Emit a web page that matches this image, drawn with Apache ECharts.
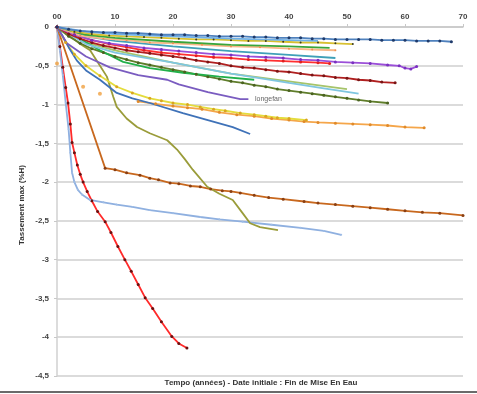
<!DOCTYPE html>
<html>
<head>
<meta charset="utf-8">
<script src="https://cdn.jsdelivr.net/npm/echarts@6/dist/echarts.min.js"></script>
<style>
  html, body { margin: 0; padding: 0; background: #fff; }
  #chart { width: 477px; height: 394px; }
</style>
</head>
<body>
<div id="chart"></div>
<script>
// Tick values
const xTicks = [0, 10, 20, 30, 40, 50, 60, 70];
const yTicks = [0, -0.5, -1, -1.5, -2, -2.5, -3, -3.5, -4, -4.5];

// Settlement curves: [years since end of impoundment, settlement %H]
const sTopBlue = [[0,0],[2,-0.03],[4,-0.05],[6,-0.06],[8,-0.07],[10,-0.07],[12,-0.08],[14,-0.08],[16,-0.09],[18,-0.1],[20,-0.1],[22,-0.1],[24,-0.11],[26,-0.11],[28,-0.12],[30,-0.12],[32,-0.12],[34,-0.13],[36,-0.13],[38,-0.14],[40,-0.14],[42,-0.14],[44,-0.15],[46,-0.15],[48,-0.16],[50,-0.16],[52,-0.16],[54,-0.16],[56,-0.17],[58,-0.17],[60,-0.17],[62,-0.18],[64,-0.18],[66,-0.18],[68,-0.19]];
const sSky = [[0,0],[5,-0.06],[10,-0.09],[20,-0.12],[30,-0.15],[40,-0.17],[45,-0.18]];
const sGold = [[0,0],[3,-0.06],[6,-0.09],[9,-0.11],[12,-0.12],[15,-0.13],[18,-0.14],[21,-0.15],[24,-0.16],[27,-0.16],[30,-0.17],[33,-0.18],[36,-0.18],[39,-0.19],[42,-0.2],[45,-0.2],[48,-0.21],[51,-0.22]];
const sGreen = [[0,0],[5,-0.1],[10,-0.14],[20,-0.19],[30,-0.23],[40,-0.25],[47,-0.27]];
const sPeach = [[0,0],[4,-0.11],[8,-0.15],[12,-0.17],[16,-0.2],[20,-0.21],[25,-0.23],[30,-0.25],[35,-0.26],[40,-0.28],[44,-0.29],[48,-0.3]];
const sTeal = [[0,0],[5,-0.12],[10,-0.18],[20,-0.25],[30,-0.31],[40,-0.36],[48,-0.4]];
const sPurple = [[0,0],[3,-0.1],[6,-0.17],[9,-0.21],[12,-0.24],[15,-0.27],[18,-0.29],[21,-0.31],[24,-0.33],[27,-0.35],[30,-0.36],[33,-0.38],[36,-0.39],[39,-0.4],[42,-0.42],[45,-0.43],[48,-0.45],[51,-0.46],[54,-0.47],[57,-0.49],[59,-0.5],[60,-0.53],[61,-0.54],[62,-0.51]];
const sRed = [[0,0],[3,-0.1],[6,-0.17],[9,-0.22],[12,-0.26],[15,-0.3],[18,-0.33],[21,-0.35],[24,-0.37],[27,-0.39],[30,-0.4],[33,-0.42],[36,-0.43],[39,-0.44],[42,-0.45],[45,-0.46],[47,-0.47]];
const sMaroon = [[0,0],[2,-0.09],[4,-0.15],[6,-0.2],[8,-0.24],[10,-0.27],[12,-0.3],[14,-0.32],[16,-0.34],[18,-0.36],[20,-0.38],[22,-0.4],[24,-0.43],[26,-0.45],[28,-0.47],[30,-0.5],[32,-0.52],[34,-0.53],[36,-0.55],[38,-0.57],[40,-0.58],[42,-0.6],[44,-0.62],[46,-0.63],[48,-0.65],[50,-0.66],[52,-0.68],[54,-0.69],[56,-0.71],[58.3,-0.72]];
const sCyan = [[0,0],[5,-0.22],[10,-0.33],[20,-0.46],[30,-0.6],[40,-0.72],[46,-0.79],[52,-0.86]];
const sLightGreen = [[0,0],[5,-0.2],[10,-0.3],[20,-0.46],[30,-0.6],[40,-0.7],[50,-0.8]];
const sBrightGreen = [[0,0],[3.4,-0.13],[7.4,-0.3],[11.4,-0.45],[16,-0.53],[21.7,-0.59],[28,-0.64],[34,-0.68]];
const sDarkGreen = [[0,0],[2,-0.12],[4,-0.21],[6,-0.28],[8,-0.33],[10,-0.38],[12,-0.42],[14,-0.46],[16,-0.49],[18,-0.52],[20,-0.55],[22,-0.58],[24,-0.61],[26,-0.64],[28,-0.67],[30,-0.7],[32,-0.72],[34,-0.75],[36,-0.77],[38,-0.8],[40,-0.82],[42,-0.84],[44,-0.86],[46,-0.88],[48,-0.9],[50,-0.92],[52,-0.94],[54,-0.96],[57,-0.98]];
const sLongefan = [[0,0],[1.7,-0.21],[5,-0.38],[9.1,-0.52],[14,-0.62],[19,-0.68],[21,-0.74],[26,-0.84],[31.6,-0.93],[33,-0.93]];
const sBlue = [[0,0],[1,-0.12],[2,-0.26],[3.4,-0.43],[5,-0.56],[7.4,-0.68],[10.3,-0.85],[13,-0.92],[16,-0.98],[21.7,-1.11],[26,-1.2],[30.3,-1.29],[33.3,-1.38]];
const sYellow = [[0,0],[1.5,-0.2],[3,-0.35],[5,-0.5],[7.4,-0.63],[10.3,-0.77],[13,-0.85],[16,-0.92],[18,-0.95],[20,-0.98],[22.5,-1.0],[24.7,-1.03],[27,-1.06],[29,-1.08],[31.6,-1.11],[34,-1.13],[36,-1.15],[38,-1.17],[40,-1.18],[43,-1.2]];
const sOrangeEarly = [[0,-0.47],[4.5,-0.77],[7.4,-0.86]];
const sOrange = [[14,-0.96],[17,-0.99],[20,-1.02],[22.5,-1.04],[25,-1.06],[28,-1.1],[31,-1.13],[34,-1.15],[37,-1.18],[40,-1.2],[42.6,-1.22],[45,-1.23],[48,-1.24],[51,-1.25],[54,-1.26],[57,-1.27],[60,-1.29],[63.3,-1.3]];
const sBrown = [[0,0],[8.3,-1.82],[10,-1.84],[12,-1.88],[14.3,-1.91],[16,-1.95],[17.5,-1.97],[19.5,-2.01],[21,-2.02],[23,-2.05],[24.7,-2.06],[26.5,-2.09],[28.5,-2.11],[30,-2.12],[31.6,-2.14],[34,-2.17],[36.5,-2.2],[39,-2.22],[42.6,-2.25],[45,-2.27],[48,-2.29],[51,-2.31],[54,-2.33],[57,-2.35],[60,-2.37],[63,-2.39],[66,-2.4],[70,-2.43]];
const sOlive = [[0,0],[2,-0.1],[4,-0.22],[5.7,-0.3],[7,-0.45],[8.6,-0.64],[9.7,-0.9],[10.3,-1.03],[12,-1.18],[13.8,-1.29],[16,-1.37],[19,-1.46],[20.7,-1.58],[22,-1.7],[23.4,-1.84],[25.9,-2.06],[28,-2.15],[30.3,-2.23],[32,-2.4],[33.3,-2.53],[35,-2.58],[38.1,-2.62]];
const sPaleBlue = [[0,0],[0.5,-0.3],[1,-0.62],[1.5,-0.98],[2,-1.32],[2.3,-1.62],[2.6,-1.88],[3,-2.0],[3.6,-2.1],[4.3,-2.16],[5.7,-2.23],[8,-2.26],[10.3,-2.29],[13,-2.32],[16,-2.36],[20,-2.4],[24.7,-2.45],[28,-2.48],[32,-2.51],[37,-2.55],[42,-2.59],[46,-2.63],[49,-2.68]];
const sSteepRed = [[0,0],[0.5,-0.25],[1,-0.52],[1.5,-0.78],[1.9,-0.98],[2.3,-1.25],[2.6,-1.49],[3,-1.62],[3.5,-1.78],[4,-1.9],[4.5,-2.0],[5.2,-2.12],[6,-2.24],[7,-2.38],[8.3,-2.51],[9.3,-2.65],[10.5,-2.83],[11.7,-3.0],[12.8,-3.15],[14,-3.32],[15.2,-3.49],[16.5,-3.63],[18,-3.8],[19.8,-3.99],[21,-4.08],[22.4,-4.14]];

function curve(data, line, marker, size) {
  return {
    type: 'line',
    data: data,
    showSymbol: !!marker,
    symbol: 'circle',
    symbolSize: size || 3,
    lineStyle: { color: line, width: 1.8 },
    itemStyle: { color: marker || line },
    emphasis: { disabled: true },
    silent: true,
    z: 2
  };
}

const series = [
  curve(sSteepRed, '#ff2a2a', '#6b1010', 3),
  curve(sPaleBlue, '#8fb0e0', '#9fbde6', 2),
  curve(sBrown, '#c8681e', '#8a3f12', 3),
  curve(sOlive, '#9a9c3a'),
  curve(sOrange, '#f5a64a', '#e08a2a', 3),
  {
    type: 'scatter', data: sOrangeEarly, symbolSize: 4,
    itemStyle: { color: '#f0a040' }, silent: true, z: 2
  },
  curve(sYellow, '#e4dc3c', '#d9a520', 3),
  curve(sBlue, '#3f72b8'),
  curve(sLongefan, '#7a5cc0'),
  curve(sDarkGreen, '#5f7d2a', '#4a6220', 3),
  curve(sLightGreen, '#a6c46a'),
  curve(sBrightGreen, '#22b04a'),
  curve(sCyan, '#7fc6e0'),
  curve(sMaroon, '#b02020', '#7a1414', 3),
  curve(sRed, '#ff3030', '#e02020', 3),
  curve(sPurple, '#9b4fd8', '#7a30c0', 3),
  curve(sTeal, '#3fa0b8'),
  curve(sPeach, '#f8b888', '#f09050', 2),
  curve(sGreen, '#3aa63a'),
  curve(sGold, '#d8c030', '#3a3a20', 2),
  curve(sSky, '#6fb0e8'),
  curve(sTopBlue, '#4f81bd', '#1f3a6a', 3)
];

const chart = echarts.init(document.getElementById('chart'), null, { renderer: 'canvas' });
chart.setOption({
  animation: false,
  backgroundColor: '#fff',
  grid: { left: 57, right: 14, top: 27, bottom: 18 },
  xAxis: {
    type: 'value',
    position: 'top',
    min: xTicks[0],
    max: xTicks[xTicks.length - 1],
    interval: 10,
    axisLine: { show: true, lineStyle: { color: '#c8c8c8', width: 1.5 } },
    axisTick: { show: true, length: 3, lineStyle: { color: '#c8c8c8' } },
    axisLabel: {
      fontSize: 8, fontWeight: 'bold', color: '#444', margin: 6,
      fontFamily: 'Liberation Sans',
      formatter: v => (v === 0 ? '00' : String(v))
    },
    splitLine: { show: false }
  },
  yAxis: {
    type: 'value',
    min: yTicks[yTicks.length - 1],
    max: yTicks[0],
    interval: 0.5,
    axisLine: { show: true, lineStyle: { color: '#d0d0d0', width: 1.5 } },
    axisTick: { show: true, length: 3, lineStyle: { color: '#c8c8c8' } },
    axisLabel: {
      fontSize: 8, fontWeight: 'bold', color: '#444', margin: 8,
      fontFamily: 'Liberation Sans',
      formatter: v => String(Math.round(v * 10) / 10).replace('.', ',')
    },
    splitLine: { show: true, lineStyle: { color: '#cfcfcf', width: 1.5 } }
  },
  series: series,
  graphic: [
    {
      type: 'text',
      rotation: Math.PI / 2,
      x: 22, y: 205,
      style: {
        text: 'Tassement max (%H)', fill: '#333',
        font: 'bold 8px "Liberation Sans"', align: 'center', verticalAlign: 'middle'
      }
    },
    {
      type: 'text', x: 261, y: 383,
      style: {
        text: 'Tempo (années) - Date initiale : Fin de Mise En Eau', fill: '#333',
        font: 'bold 8px "Liberation Sans"', align: 'center', verticalAlign: 'middle'
      }
    },
    {
      type: 'text', x: 255, y: 99,
      style: {
        text: 'longefan', fill: '#666',
        font: '7px "Liberation Sans"', align: 'left', verticalAlign: 'middle'
      }
    },
    {
      type: 'rect', shape: { x: 0, y: 391, width: 477, height: 2 },
      style: { fill: '#6a6a6a' }
    }
  ]
});
</script>
</body>
</html>
